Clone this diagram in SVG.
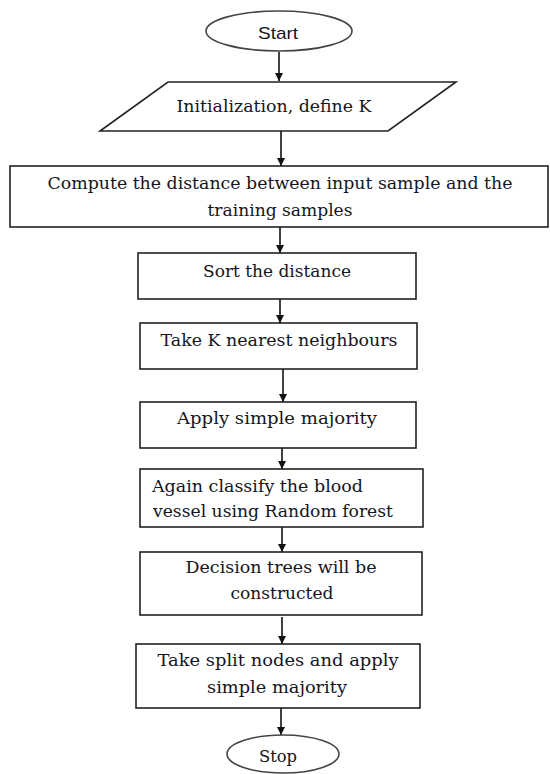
<svg xmlns="http://www.w3.org/2000/svg" width="550" height="774" viewBox="0 0 550 774">
<defs>
<style>
.box{fill:#fff;stroke:#222;stroke-width:1.6}
.term{fill:#fff;stroke:#444;stroke-width:1.6}
.t{font-family:"DejaVu Serif","Liberation Serif",serif;font-size:17.5px;fill:#141420;text-anchor:middle}
.tl{font-family:"DejaVu Serif","Liberation Serif",serif;font-size:17.5px;fill:#141420}
.ts{font-family:"Liberation Sans",Arial,sans-serif;font-size:17px;fill:#141420;text-anchor:middle}
.c{stroke:#111;stroke-width:1.6;fill:none;marker-end:url(#ah)}
</style>
<marker id="ah" viewBox="0 0 10 10" refX="10" refY="5" markerWidth="8" markerHeight="8" markerUnits="userSpaceOnUse" orient="auto">
<path d="M0,0 L10,5 L0,10 Z" fill="#111"/>
</marker>
</defs>
<rect width="550" height="774" fill="#fff"/>
<g id="connectors">
<line class="c" x1="279" y1="52" x2="279" y2="81"/>
<line class="c" x1="281" y1="131" x2="281" y2="166"/>
<line class="c" x1="280" y1="227" x2="280" y2="253"/>
<line class="c" x1="280" y1="299" x2="280" y2="323"/>
<line class="c" x1="283" y1="369" x2="283" y2="402"/>
<line class="c" x1="282" y1="448" x2="282" y2="469"/>
<line class="c" x1="282" y1="527" x2="282" y2="552"/>
<line class="c" x1="282" y1="617" x2="282" y2="644"/>
<line class="c" x1="281" y1="708" x2="281" y2="735"/>
</g>
<g id="start">
<ellipse class="term" cx="279" cy="31" rx="73" ry="20"/>
<text class="ts" x="278" y="39" textLength="40" lengthAdjust="spacingAndGlyphs">Start</text>
</g>
<g id="init">
<polygon class="box" points="168,82 456,82 388,131 100,131"/>
<text class="t" x="274" y="112" textLength="195" lengthAdjust="spacingAndGlyphs">Initialization, define K</text>
</g>
<g id="compute">
<rect class="box" x="10" y="166" width="538" height="61"/>
<text class="t" x="280" y="189" textLength="465" lengthAdjust="spacingAndGlyphs">Compute the distance between input sample and the</text>
<text class="t" x="280" y="216" textLength="145" lengthAdjust="spacingAndGlyphs">training samples</text>
</g>
<g id="sort">
<rect class="box" x="138" y="253" width="278" height="46"/>
<text class="t" x="277" y="277" textLength="148" lengthAdjust="spacingAndGlyphs">Sort the distance</text>
</g>
<g id="takek">
<rect class="box" x="140" y="323" width="277" height="46"/>
<text class="t" x="279" y="346" textLength="237" lengthAdjust="spacingAndGlyphs">Take K nearest neighbours</text>
</g>
<g id="apply">
<rect class="box" x="140" y="402" width="276" height="46"/>
<text class="t" x="277" y="424" textLength="200" lengthAdjust="spacingAndGlyphs">Apply simple majority</text>
</g>
<g id="again">
<rect class="box" x="140" y="469" width="283" height="58"/>
<text class="tl" x="152" y="492" textLength="211" lengthAdjust="spacingAndGlyphs">Again classify the blood</text>
<text class="tl" x="153" y="517" textLength="240" lengthAdjust="spacingAndGlyphs">vessel using Random forest</text>
</g>
<g id="decision">
<rect class="box" x="140" y="552" width="282" height="63"/>
<text class="t" x="281" y="573" textLength="191" lengthAdjust="spacingAndGlyphs">Decision trees will be</text>
<text class="t" x="282" y="599" textLength="103" lengthAdjust="spacingAndGlyphs">constructed</text>
</g>
<g id="split">
<rect class="box" x="136" y="644" width="284" height="64"/>
<text class="t" x="278" y="666" textLength="241" lengthAdjust="spacingAndGlyphs">Take split nodes and apply</text>
<text class="t" x="277" y="693" textLength="140" lengthAdjust="spacingAndGlyphs">simple majority</text>
</g>
<g id="stop">
<ellipse class="term" cx="283" cy="754" rx="56" ry="19"/>
<text class="t" x="278" y="762" textLength="38" lengthAdjust="spacingAndGlyphs">Stop</text>
</g>
</svg>
